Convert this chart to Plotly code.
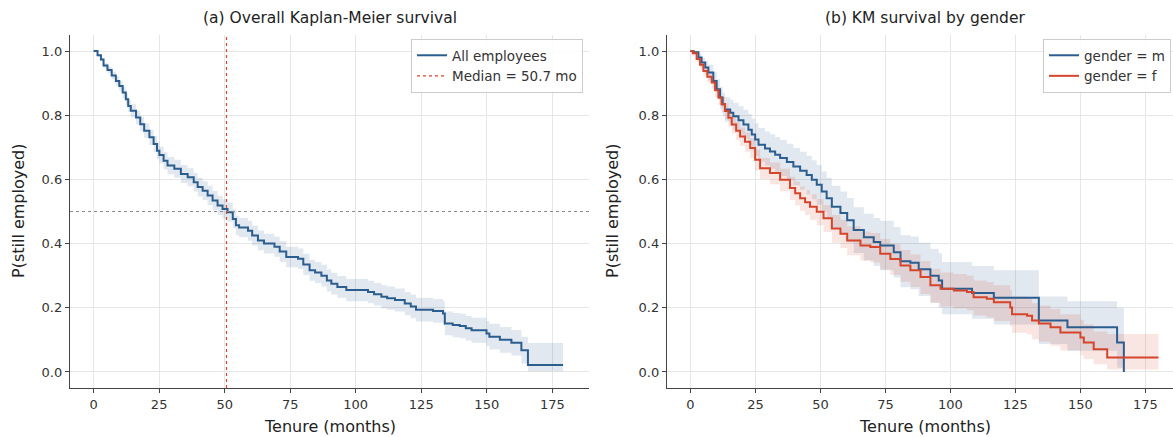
import plotly.graph_objects as go

# ---------------- data ----------------
# (a) overall Kaplan-Meier estimate (step-post)
T_ALL = [0, 1.5, 2.8, 3.8, 5.3, 6.9, 8.5, 9.8, 11.1, 12.3,
         13.2, 14.2, 16.2, 17.8, 19.3, 21.3, 22.9, 24.2, 25.1, 26.7,
         28.2, 30.8, 33.3, 35.9, 38.2, 39.7, 41.6, 43.5, 45.4, 47.3,
         49.2, 51.1, 53.1, 54.3, 55.5, 58.9, 60.5, 62.7, 65, 69,
         71, 73.5, 78, 80, 82.4, 84.5, 86.9, 89, 90.7, 93,
         96.4, 104.7, 107, 109.8, 112, 115, 118.7, 121, 123, 129.5,
         133.3, 134, 137, 139.7, 142, 144.2, 149.9, 151, 155, 159.4,
         163.2, 165.7, 179.1]
S_ALL = [1.0, 0.987, 0.974, 0.955, 0.941, 0.924, 0.907, 0.891, 0.871, 0.850,
         0.829, 0.814, 0.793, 0.772, 0.752, 0.731, 0.710, 0.689, 0.676, 0.658,
         0.643, 0.633, 0.617, 0.607, 0.591, 0.576, 0.565, 0.550, 0.534, 0.519,
         0.508, 0.498, 0.477, 0.457, 0.45, 0.44, 0.425, 0.41, 0.40, 0.39,
         0.375, 0.358, 0.353, 0.335, 0.317, 0.31, 0.30, 0.285, 0.275, 0.265,
         0.255, 0.249, 0.242, 0.234, 0.23, 0.224, 0.213, 0.204, 0.194, 0.19,
         0.182, 0.151, 0.146, 0.143, 0.136, 0.13, 0.12, 0.11, 0.10, 0.091,
         0.068, 0.022, 0.022]
LO_ALL = [1.0, 0.983, 0.968, 0.947, 0.931, 0.912, 0.893, 0.876, 0.854, 0.832,
          0.810, 0.794, 0.772, 0.750, 0.729, 0.707, 0.685, 0.663, 0.650, 0.631,
          0.616, 0.605, 0.589, 0.579, 0.562, 0.547, 0.536, 0.520, 0.504, 0.489,
          0.478, 0.468, 0.447, 0.427, 0.420, 0.409, 0.394, 0.379, 0.369, 0.359,
          0.343, 0.326, 0.321, 0.302, 0.284, 0.277, 0.266, 0.251, 0.241, 0.231,
          0.220, 0.214, 0.207, 0.198, 0.194, 0.188, 0.177, 0.167, 0.157, 0.153,
          0.144, 0.114, 0.108, 0.105, 0.098, 0.091, 0.081, 0.070, 0.060, 0.051,
          0.026, 0.002, 0.002]
HI_ALL = [1.0, 0.991, 0.980, 0.963, 0.951, 0.936, 0.921, 0.906, 0.888, 0.868,
          0.848, 0.834, 0.814, 0.794, 0.775, 0.755, 0.735, 0.715, 0.702, 0.685,
          0.670, 0.661, 0.645, 0.635, 0.620, 0.605, 0.594, 0.580, 0.564, 0.549,
          0.538, 0.528, 0.507, 0.487, 0.480, 0.471, 0.456, 0.441, 0.431, 0.421,
          0.407, 0.390, 0.385, 0.368, 0.350, 0.343, 0.334, 0.319, 0.309, 0.299,
          0.290, 0.284, 0.277, 0.270, 0.266, 0.260, 0.249, 0.241, 0.231, 0.227,
          0.220, 0.188, 0.184, 0.181, 0.174, 0.169, 0.159, 0.150, 0.140, 0.131,
          0.110, 0.090, 0.090]
MEDIAN = 50.7
HALF = 0.5

# (b) by gender: m
T_M = [0, 1.2, 3.1, 4.3, 5.7, 6.9, 8.8, 10.1, 11.4, 12.4,
       13.3, 15.3, 16.5, 18.5, 20.4, 22.3, 23.6, 24.9, 26.2, 28.7,
       30.6, 32.6, 34.5, 37.1, 39.6, 42.2, 44.7, 46.7, 48.6, 50.5,
       52.4, 54.4, 57.7, 60.3, 62.8, 66.7, 70.5, 73, 78.2, 80.8,
       84.6, 87.8, 92.3, 95.5, 96.8, 108.3, 116.7, 134, 145, 164.1,
       166.7]
S_M = [1.0, 0.996, 0.980, 0.964, 0.949, 0.933, 0.907, 0.881, 0.855, 0.834,
       0.818, 0.808, 0.797, 0.784, 0.771, 0.755, 0.740, 0.724, 0.708, 0.696,
       0.687, 0.677, 0.667, 0.654, 0.640, 0.627, 0.614, 0.599, 0.583, 0.562,
       0.541, 0.515, 0.495, 0.473, 0.442, 0.42, 0.405, 0.394, 0.373, 0.345,
       0.34, 0.32, 0.30, 0.285, 0.259, 0.246, 0.231, 0.16, 0.139, 0.092,
       0.0]
LO_M = [1.0, 0.991, 0.968, 0.948, 0.929, 0.909, 0.879, 0.850, 0.821, 0.798,
        0.780, 0.768, 0.755, 0.740, 0.725, 0.707, 0.690, 0.673, 0.656, 0.643,
        0.633, 0.622, 0.611, 0.597, 0.582, 0.568, 0.554, 0.538, 0.521, 0.499,
        0.477, 0.450, 0.428, 0.404, 0.371, 0.347, 0.330, 0.317, 0.294, 0.264,
        0.258, 0.237, 0.216, 0.200, 0.180, 0.166, 0.148, 0.087, 0.066, 0.013,
        0.0]
HI_M = [1.0, 1.0, 0.992, 0.980, 0.969, 0.957, 0.935, 0.912, 0.889, 0.870,
        0.856, 0.848, 0.839, 0.828, 0.817, 0.803, 0.790, 0.775, 0.760, 0.749,
        0.741, 0.732, 0.723, 0.711, 0.698, 0.686, 0.674, 0.660, 0.645, 0.625,
        0.605, 0.580, 0.562, 0.542, 0.513, 0.493, 0.480, 0.471, 0.452, 0.426,
        0.422, 0.403, 0.384, 0.370, 0.343, 0.330, 0.317, 0.235, 0.22, 0.20,
        0.0]

# (b) by gender: f
T_F = [0, 0.9, 2.4, 3.7, 5.0, 6.5, 8.2, 9.5, 10.8, 12.0,
       13.3, 14.6, 15.9, 17.6, 19.1, 21.0, 23.0, 24.9, 26.8, 30.6,
       34.5, 38.3, 40.3, 42.2, 44.1, 46.0, 48.6, 51.2, 54.4, 57.7,
       60.3, 65.4, 69.2, 73, 76.9, 80.8, 84.6, 88.5, 92.3, 96.2,
       101.3, 106.4, 108.9, 114, 116.7, 123, 123.7, 129.5, 131.4, 134,
       138.5, 142.3, 150, 151.3, 155.1, 160.3, 180]
S_F = [1.0, 0.993, 0.975, 0.957, 0.938, 0.920, 0.902, 0.878, 0.855, 0.834,
       0.813, 0.792, 0.771, 0.752, 0.734, 0.717, 0.698, 0.661, 0.635, 0.620,
       0.599, 0.573, 0.557, 0.541, 0.529, 0.515, 0.499, 0.479, 0.447, 0.431,
       0.41, 0.394, 0.389, 0.368, 0.352, 0.332, 0.317, 0.296, 0.27, 0.259,
       0.254, 0.249, 0.233, 0.228, 0.217, 0.201, 0.18, 0.175, 0.16, 0.151,
       0.139, 0.123, 0.107, 0.092, 0.071, 0.045, 0.045]
LO_F = [1.0, 0.987, 0.965, 0.945, 0.923, 0.903, 0.883, 0.857, 0.832, 0.809,
        0.787, 0.765, 0.743, 0.723, 0.704, 0.686, 0.666, 0.628, 0.601, 0.585,
        0.563, 0.536, 0.519, 0.502, 0.489, 0.474, 0.457, 0.436, 0.403, 0.386,
        0.364, 0.347, 0.341, 0.319, 0.302, 0.281, 0.265, 0.243, 0.216, 0.204,
        0.198, 0.192, 0.176, 0.170, 0.159, 0.142, 0.122, 0.117, 0.102, 0.094,
        0.082, 0.067, 0.052, 0.040, 0.024, 0.008, 0.008]
HI_F = [1.0, 0.997, 0.983, 0.967, 0.951, 0.935, 0.919, 0.897, 0.876, 0.857,
        0.837, 0.817, 0.797, 0.779, 0.762, 0.746, 0.728, 0.693, 0.667, 0.653,
        0.633, 0.608, 0.593, 0.578, 0.567, 0.554, 0.539, 0.520, 0.489, 0.474,
        0.454, 0.438, 0.433, 0.414, 0.399, 0.380, 0.366, 0.346, 0.321, 0.310,
        0.305, 0.300, 0.285, 0.280, 0.270, 0.255, 0.235, 0.230, 0.215, 0.207,
        0.196, 0.180, 0.163, 0.148, 0.126, 0.118, 0.118]

X_TICKS = [0, 25, 50, 75, 100, 125, 150, 175]
Y_TICKS = [0.0, 0.2, 0.4, 0.6, 0.8, 1.0]
Y_TICK_TEXT = ["0.0", "0.2", "0.4", "0.6", "0.8", "1.0"]

# ---------------- styling ----------------
BLUE = "#2c5d8f"
RED = "#d4452b"
BLUE_FILL = "rgba(44,93,143,0.14)"
RED_FILL = "rgba(212,69,43,0.14)"
FONT = "DejaVu Sans"
W, H = 1173, 437

fig = go.Figure()


def add_band(t, lo, hi, fillcolor, xa, ya):
    fig.add_trace(go.Scatter(x=t, y=lo, mode="lines", line=dict(width=0, shape="hv"),
                             showlegend=False, hoverinfo="skip", xaxis=xa, yaxis=ya))
    fig.add_trace(go.Scatter(x=t, y=hi, mode="lines", line=dict(width=0, shape="hv"),
                             fill="tonexty", fillcolor=fillcolor,
                             showlegend=False, hoverinfo="skip", xaxis=xa, yaxis=ya))


# panel (a)
add_band(T_ALL, LO_ALL, HI_ALL, BLUE_FILL, "x", "y")
fig.add_trace(go.Scatter(x=T_ALL, y=S_ALL, mode="lines", name="All employees",
                         line=dict(color=BLUE, width=2, shape="hv"),
                         xaxis="x", yaxis="y", legend="legend"))
# legend entry for the median reference line (line itself drawn as a shape below)
fig.add_trace(go.Scatter(x=[None], y=[None], mode="lines", name=f"Median = {MEDIAN} mo",
                         line=dict(color=RED, width=1.2, dash="dot"),
                         xaxis="x", yaxis="y", legend="legend", hoverinfo="skip"))

# panel (b)
add_band(T_M, LO_M, HI_M, BLUE_FILL, "x2", "y2")
add_band(T_F, LO_F, HI_F, RED_FILL, "x2", "y2")
fig.add_trace(go.Scatter(x=T_M, y=S_M, mode="lines", name="gender = m",
                         line=dict(color=BLUE, width=2, shape="hv"),
                         xaxis="x2", yaxis="y2", legend="legend2"))
fig.add_trace(go.Scatter(x=T_F, y=S_F, mode="lines", name="gender = f",
                         line=dict(color=RED, width=2, shape="hv"),
                         xaxis="x2", yaxis="y2", legend="legend2"))

# reference lines in panel (a)
fig.add_shape(type="line", xref="x domain", yref="y", x0=0, x1=1, y0=HALF, y1=HALF,
              line=dict(color="#8a8a8a", width=1.2, dash="dot"), layer="above")
fig.add_shape(type="line", xref="x", yref="y domain", x0=MEDIAN, x1=MEDIAN, y0=0, y1=1,
              line=dict(color=RED, width=1.2, dash="dot"), layer="above")

ydom = [1 - 388 / H, 1 - 35 / H]
axis_common = dict(
    showline=True, linecolor="#444444", linewidth=1.3, mirror=False,
    ticks="outside", ticklen=4, tickwidth=1.2, tickcolor="#444444",
    showgrid=True, gridcolor="#e6e6e6", gridwidth=1, zeroline=False,
    tickfont=dict(family=FONT, size=13, color="#333333"),
    automargin=False, fixedrange=True,
)
legend_common = dict(
    bgcolor="rgba(255,255,255,0.85)", bordercolor="#cccccc", borderwidth=1,
    font=dict(family=FONT, size=13.5, color="#333333"),
    tracegroupgap=0, itemwidth=30, yanchor="top", traceorder="normal",
)
fig.update_layout(
    width=W, height=H,
    margin=dict(l=0, r=0, t=0, b=0),
    paper_bgcolor="white", plot_bgcolor="white",
    font=dict(family=FONT, color="#222222"),
    xaxis=dict(domain=[70 / W, 589 / W], range=[-9, 189], tickvals=X_TICKS,
               anchor="y", **axis_common),
    yaxis=dict(domain=ydom, range=[-0.05, 1.05], tickvals=Y_TICKS, ticktext=Y_TICK_TEXT,
               anchor="x", **axis_common),
    xaxis2=dict(domain=[667 / W, 1.0], range=[-9, 185.6], tickvals=X_TICKS,
                anchor="y2", **axis_common),
    yaxis2=dict(domain=ydom, range=[-0.05, 1.05], tickvals=Y_TICKS, ticktext=Y_TICK_TEXT,
                anchor="x2", **axis_common),
    legend=dict(x=583 / W, y=1 - 39 / H, xanchor="right", **legend_common),
    legend2=dict(x=1043 / W, y=1 - 39 / H, xanchor="left", **legend_common),
    showlegend=True,
)

annots = [
    dict(text="(a) Overall Kaplan-Meier survival", x=329.5 / W, y=1 - 18 / H, size=15.5),
    dict(text="(b) KM survival by gender", x=925 / W, y=1 - 18 / H, size=15.5),
    dict(text="Tenure (months)", x=329.5 / W, y=1 - 426 / H, size=16),
    dict(text="Tenure (months)", x=925 / W, y=1 - 426 / H, size=16),
]
for a in annots:
    fig.add_annotation(text=a["text"], x=a["x"], y=a["y"], xref="paper", yref="paper",
                       showarrow=False, xanchor="center", yanchor="middle",
                       font=dict(family=FONT, size=a["size"], color="#222222"))
for xp in (18, 612):
    fig.add_annotation(text="P(still employed)", x=xp / W, y=1 - 211 / H, xref="paper",
                       yref="paper", showarrow=False, textangle=-90,
                       xanchor="center", yanchor="middle",
                       font=dict(family=FONT, size=16, color="#222222"))

fig.write_html("out.html",
               config={"displayModeBar": False},
               post_script="document.body.style.margin='0px';"
                           "document.body.style.overflow='hidden';")
